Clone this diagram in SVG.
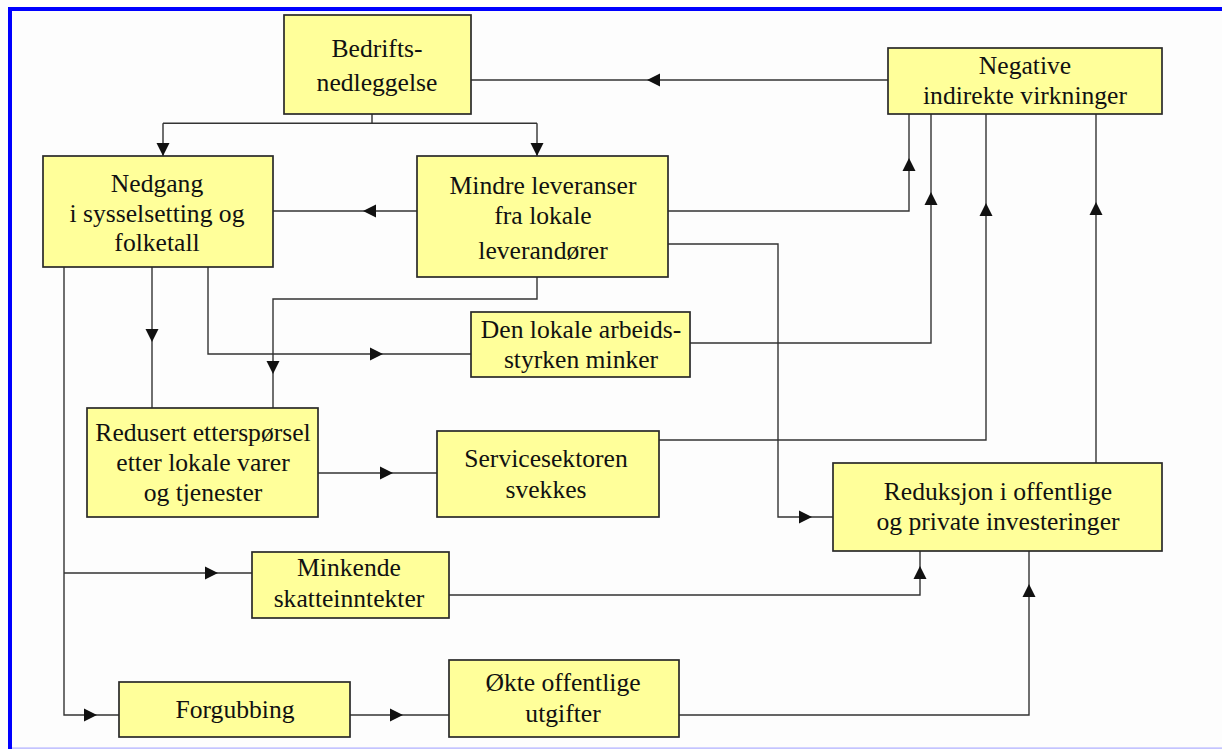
<svg xmlns="http://www.w3.org/2000/svg" xmlns:xlink="http://www.w3.org/1999/xlink" width="1222" height="749" viewBox="0 0 1222 749">
  <style>
    .box { fill: #ffff9a; stroke: #2a2a2a; stroke-width: 1.7; }
    .lbl { font-size: 25.6px; fill: #111; text-anchor: middle; }
    .wire { fill: none; stroke: #333; stroke-width: 1.4; }
    .head { fill: #111; }
  </style>
  <defs>
    <!-- arrowhead pointing right, tip at the origin -->
    <path id="ah" d="M0,0 L-13,-6.5 L-13,6.5 Z"/>
  </defs>

  <!-- page background and frame -->
  <rect x="0" y="0" width="1222" height="749" fill="#fdfdfd"/>
  <rect x="8" y="7" width="1214" height="4" fill="#0000ff"/>
  <rect x="8" y="7" width="4" height="742" fill="#0000ff"/>
  <rect x="12" y="747.3" width="1210" height="1.7" fill="#c4c4ff"/>

  <!-- connectors -->
  <g id="connectors">
    <path class="wire" d="M372,114 V123.3 M163,123.3 H537 M163,123.3 V156 M537,123.3 V156"/>
    <path class="wire" d="M888,80 H471"/>
    <path class="wire" d="M417,211 H273"/>
    <path class="wire" d="M668,211 H909 V114"/>
    <path class="wire" d="M690,343 H931 V114"/>
    <path class="wire" d="M656,440 H986 V114"/>
    <path class="wire" d="M1096,463 V114"/>
    <path class="wire" d="M668,244 H778 V517 H833"/>
    <path class="wire" d="M537,277 V299 H273 V408"/>
    <path class="wire" d="M152,267 V408"/>
    <path class="wire" d="M208,267 V354 H471"/>
    <path class="wire" d="M318,473 H437"/>
    <path class="wire" d="M64,267 V715 H119 M64,573 H252"/>
    <path class="wire" d="M350,715 H449"/>
    <path class="wire" d="M449,595 H920 V551"/>
    <path class="wire" d="M679,715 H1029 V551"/>

    <g class="head">
      <use xlink:href="#ah" transform="translate(163,156) rotate(90)"/>
      <use xlink:href="#ah" transform="translate(537,156) rotate(90)"/>
      <use xlink:href="#ah" transform="translate(647,80) rotate(180)"/>
      <use xlink:href="#ah" transform="translate(363,211) rotate(180)"/>
      <use xlink:href="#ah" transform="translate(909,158) rotate(-90)"/>
      <use xlink:href="#ah" transform="translate(931,192) rotate(-90)"/>
      <use xlink:href="#ah" transform="translate(986,203) rotate(-90)"/>
      <use xlink:href="#ah" transform="translate(1096,202) rotate(-90)"/>
      <use xlink:href="#ah" transform="translate(812,517)"/>
      <use xlink:href="#ah" transform="translate(273,374) rotate(90)"/>
      <use xlink:href="#ah" transform="translate(152,342) rotate(90)"/>
      <use xlink:href="#ah" transform="translate(383,354)"/>
      <use xlink:href="#ah" transform="translate(393,473)"/>
      <use xlink:href="#ah" transform="translate(218,573)"/>
      <use xlink:href="#ah" transform="translate(97,715)"/>
      <use xlink:href="#ah" transform="translate(403,715)"/>
      <use xlink:href="#ah" transform="translate(920,566) rotate(-90)"/>
      <use xlink:href="#ah" transform="translate(1029,584) rotate(-90)"/>
    </g>
  </g>

  <!-- nodes; all labels share one serif face -->
  <g font-family="'Liberation Serif', 'DejaVu Serif', serif">
  <g id="bedriftsnedleggelse">
    <rect class="box" x="284" y="15" width="187" height="99"/>
    <text class="lbl" x="377" y="57">Bedrifts-</text>
    <text class="lbl" x="377" y="91">nedleggelse</text>
  </g>

  <g id="negative-virkninger">
    <rect class="box" x="888" y="48" width="274" height="66"/>
    <text class="lbl" x="1025" y="74">Negative</text>
    <text class="lbl" x="1025" y="104">indirekte virkninger</text>
  </g>

  <g id="nedgang">
    <rect class="box" x="43" y="156" width="230" height="111"/>
    <text class="lbl" x="157" y="192">Nedgang</text>
    <text class="lbl" x="157" y="222">i sysselsetting og</text>
    <text class="lbl" x="157" y="251">folketall</text>
  </g>

  <g id="mindre-leveranser">
    <rect class="box" x="417" y="156" width="251" height="121"/>
    <text class="lbl" x="543" y="194">Mindre leveranser</text>
    <text class="lbl" x="543" y="224">fra lokale</text>
    <text class="lbl" x="543" y="259">leverandører</text>
  </g>

  <g id="arbeidsstyrken">
    <rect class="box" x="471" y="312" width="219" height="65"/>
    <text class="lbl" x="581" y="338">Den lokale arbeids-</text>
    <text class="lbl" x="581" y="368">styrken minker</text>
  </g>

  <g id="redusert-etterspoersel">
    <rect class="box" x="87" y="408" width="231" height="109"/>
    <text class="lbl" x="203" y="441">Redusert etterspørsel</text>
    <text class="lbl" x="203" y="471">etter lokale varer</text>
    <text class="lbl" x="203" y="501">og tjenester</text>
  </g>

  <g id="servicesektoren">
    <rect class="box" x="437" y="431" width="222" height="86"/>
    <text class="lbl" x="546" y="467">Servicesektoren</text>
    <text class="lbl" x="546" y="498">svekkes</text>
  </g>

  <g id="reduksjon-investeringer">
    <rect class="box" x="833" y="463" width="329" height="88"/>
    <text class="lbl" x="998" y="500">Reduksjon i offentlige</text>
    <text class="lbl" x="998" y="530">og private investeringer</text>
  </g>

  <g id="minkende-skatteinntekter">
    <rect class="box" x="252" y="552" width="197" height="66"/>
    <text class="lbl" x="349" y="576">Minkende</text>
    <text class="lbl" x="349" y="607">skatteinntekter</text>
  </g>

  <g id="forgubbing">
    <rect class="box" x="119" y="682" width="231" height="55"/>
    <text class="lbl" x="235" y="718">Forgubbing</text>
  </g>

  <g id="oekte-utgifter">
    <rect class="box" x="449" y="660" width="230" height="77"/>
    <text class="lbl" x="563" y="691">Økte offentlige</text>
    <text class="lbl" x="563" y="722">utgifter</text>
  </g>
  </g>
</svg>
